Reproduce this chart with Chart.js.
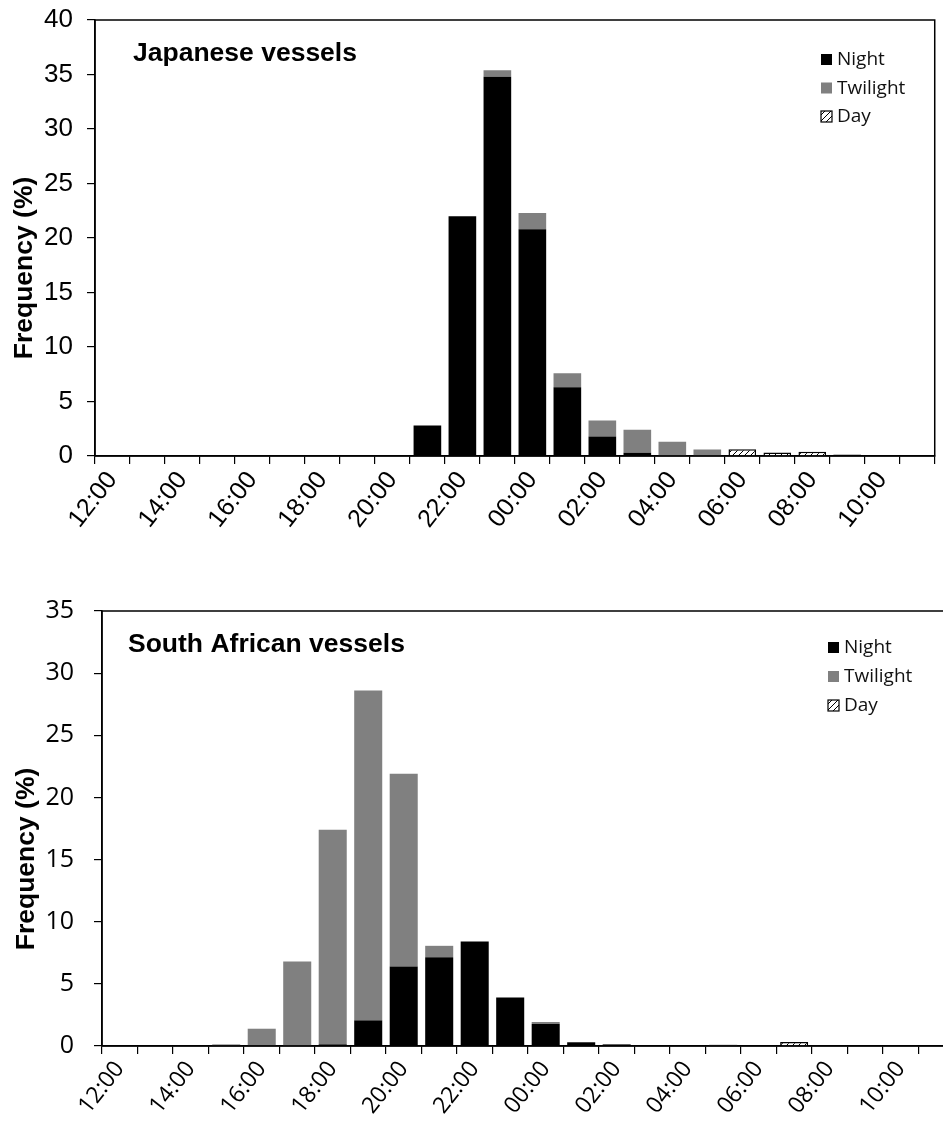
<!DOCTYPE html>
<html>
<head>
<meta charset="utf-8">
<title>Set times by light period</title>
<script src="https://cdn.jsdelivr.net/npm/chart.js@4.4.1/dist/chart.umd.min.js"></script>
<style>
  html, body { margin: 0; padding: 0; background: #fff; overflow: hidden; }
  #topWrap { position: absolute; left: 0; top: 0; }
  #bottomWrap { position: absolute; left: 0; top: 560px; }
</style>
</head>
<body>
<div id="topWrap"><canvas id="topChart" width="943" height="560"></canvas></div>
<div id="bottomWrap"><canvas id="bottomChart" width="960" height="564"></canvas></div>
<script>
// hourly bins, 12:00 round to 11:00
const hours = ['12:00', '13:00', '14:00', '15:00', '16:00', '17:00', '18:00', '19:00',
               '20:00', '21:00', '22:00', '23:00', '00:00', '01:00', '02:00', '03:00',
               '04:00', '05:00', '06:00', '07:00', '08:00', '09:00', '10:00', '11:00'];
const seriesNames = ['Night', 'Twilight', 'Day'];

// Japanese vessels (%)
const japanNight    = [0, 0, 0, 0, 0, 0, 0, 0, 0, 2.8, 22.0, 34.8, 20.8, 6.3, 1.8, 0.3, 0, 0, 0, 0, 0, 0.12, 0, 0];
const japanTwilight = [0, 0, 0, 0, 0, 0, 0, 0, 0.05, 0, 0, 0.6, 1.5, 1.3, 1.45, 2.1, 1.3, 0.6, 0, 0, 0, 0, 0.05, 0.05];
const japanDay      = [0, 0, 0, 0, 0, 0, 0, 0, 0, 0, 0, 0, 0, 0, 0, 0, 0, 0, 0.62, 0.33, 0.4, 0, 0, 0];

// South African vessels (%)
const saNight    = [0, 0, 0, 0, 0, 0, 0.13, 2.06, 6.4, 7.15, 8.4, 3.9, 1.77, 0.3, 0.13, 0, 0, 0, 0, 0, 0, 0, 0, 0];
const saTwilight = [0, 0, 0, 0.13, 1.39, 6.8, 17.27, 26.54, 15.5, 0.91, 0, 0, 0.16, 0, 0, 0, 0, 0.1, 0, 0, 0, 0, 0, 0];
const saDay      = [0, 0, 0, 0, 0, 0, 0, 0, 0, 0, 0, 0, 0, 0, 0, 0, 0, 0, 0, 0.33, 0, 0, 0, 0];

function makeHatch() {
    const c = document.createElement('canvas');
    c.width = 6;
    c.height = 6;
    const g = c.getContext('2d');
    g.fillStyle = '#fff';
    g.fillRect(0, 0, 6, 6);
    g.strokeStyle = '#000';
    g.lineWidth = 1;
    g.beginPath();
    g.moveTo(0, 6); g.lineTo(6, 0);
    g.moveTo(-1, 1); g.lineTo(1, -1);
    g.moveTo(5, 7); g.lineTo(7, 5);
    g.stroke();
    return g.createPattern(c, 'repeat');
}
const hatch = makeHatch();

// frame, panel title, y title and legend drawn inside the plot
const panelPlugin = {
    id: 'panel',
    afterDraw(chart, args, opts) {
        const ctx = chart.ctx;
        const a = chart.chartArea;
        ctx.save();
        ctx.strokeStyle = '#000';
        ctx.lineWidth = 1.5;
        ctx.strokeRect(a.left, a.top, a.right - a.left, a.bottom - a.top);

        ctx.fillStyle = '#000';
        ctx.font = 'bold 26.5px "Liberation Sans", Arial, sans-serif';
        ctx.textBaseline = 'middle';
        ctx.textAlign = 'left';
        ctx.fillText(opts.title, opts.titleX, opts.titleY);

        ctx.save();
        ctx.translate(opts.yTitleX, opts.yTitleY);
        ctx.rotate(-Math.PI / 2);
        ctx.textAlign = 'center';
        ctx.fillText('Frequency (%)', 0, 0);
        ctx.restore();

        ctx.font = '19px "Open Sans", sans-serif';
        chart.data.datasets.forEach((ds, i) => {
            const y = opts.legendY + i * opts.legendGap;
            ctx.fillStyle = ds.backgroundColor;
            ctx.fillRect(opts.legendX, y - 6, 11, 11);
            if (ds.borderWidth) {
                ctx.lineWidth = 1.2;
                ctx.strokeStyle = '#000';
                ctx.strokeRect(opts.legendX, y - 6, 11, 11);
            }
            ctx.fillStyle = '#111';
            ctx.fillText(ds.label, opts.legendX + 16, y);
        });
        ctx.restore();
    }
};

function makeChart(id, night, twilight, day, p) {
    const ctx = document.getElementById(id).getContext('2d');
    return new Chart(ctx, {
        type: 'bar',
        data: {
            labels: hours,
            datasets: [
                { label: seriesNames[0], data: night, backgroundColor: '#000000', borderWidth: 0 },
                { label: seriesNames[1], data: twilight, backgroundColor: '#808080', borderWidth: 0 },
                { label: seriesNames[2], data: day, backgroundColor: hatch, borderColor: '#000', borderWidth: 1.5 }
            ]
        },
        options: {
            responsive: false,
            animation: false,
            layout: { padding: { top: p.padTop, right: p.padRight, left: 0, bottom: 0 } },
            datasets: { bar: { barPercentage: 0.79, categoryPercentage: 1 } },
            scales: {
                x: {
                    stacked: true,
                    afterFit: s => { s.height = p.xHeight; },
                    border: { display: true, color: '#000', width: 1.5 },
                    grid: { offset: true, drawOnChartArea: false, drawTicks: true, tickLength: 8, color: '#000', lineWidth: 1.2 },
                    ticks: {
                        autoSkip: false,
                        minRotation: 52,
                        maxRotation: 52,
                        padding: 2,
                        color: '#000',
                        font: { family: p.tickFont, size: p.xTickSize },
                        callback: function (value, index) {
                            return index % 2 === 0 ? this.getLabelForValue(value) : '';
                        }
                    }
                },
                y: {
                    stacked: true,
                    min: 0,
                    max: p.yMax,
                    afterFit: s => {
                        s.width = p.yWidth;
                        s.paddingTop = 0;
                        s.paddingBottom = 0;
                    },
                    border: { display: true, color: '#000', width: 1.5 },
                    grid: { drawOnChartArea: false, drawTicks: true, tickLength: 8, color: '#000', lineWidth: 1.2 },
                    ticks: {
                        stepSize: 5,
                        padding: p.yPad,
                        color: '#000',
                        font: { family: p.tickFont, size: p.yTickSize }
                    }
                }
            },
            plugins: {
                legend: { display: false },
                tooltip: { enabled: false },
                panel: p.panel
            }
        },
        plugins: [panelPlugin]
    });
}

makeChart('topChart', japanNight, japanTwilight, japanDay, {
    padTop: 20, padRight: 6, xHeight: 104, yWidth: 95, yMax: 40, yPad: 14,
    tickFont: '"Liberation Sans", Arial, sans-serif', xTickSize: 25, yTickSize: 26,
    panel: { title: 'Japanese vessels', titleX: 133, titleY: 54, yTitleX: 25, yTitleY: 268,
             legendX: 821, legendY: 60, legendGap: 28.5 }
});

makeChart('bottomChart', saNight, saTwilight, saDay, {
    padTop: 51, padRight: 5, xHeight: 78, yWidth: 102, yMax: 35, yPad: 20,
    tickFont: '"Open Sans", sans-serif', xTickSize: 23, yTickSize: 25,
    panel: { title: 'South African vessels', titleX: 128, titleY: 85, yTitleX: 27, yTitleY: 299,
             legendX: 828, legendY: 88, legendGap: 29 }
});
</script>
</body>
</html>
